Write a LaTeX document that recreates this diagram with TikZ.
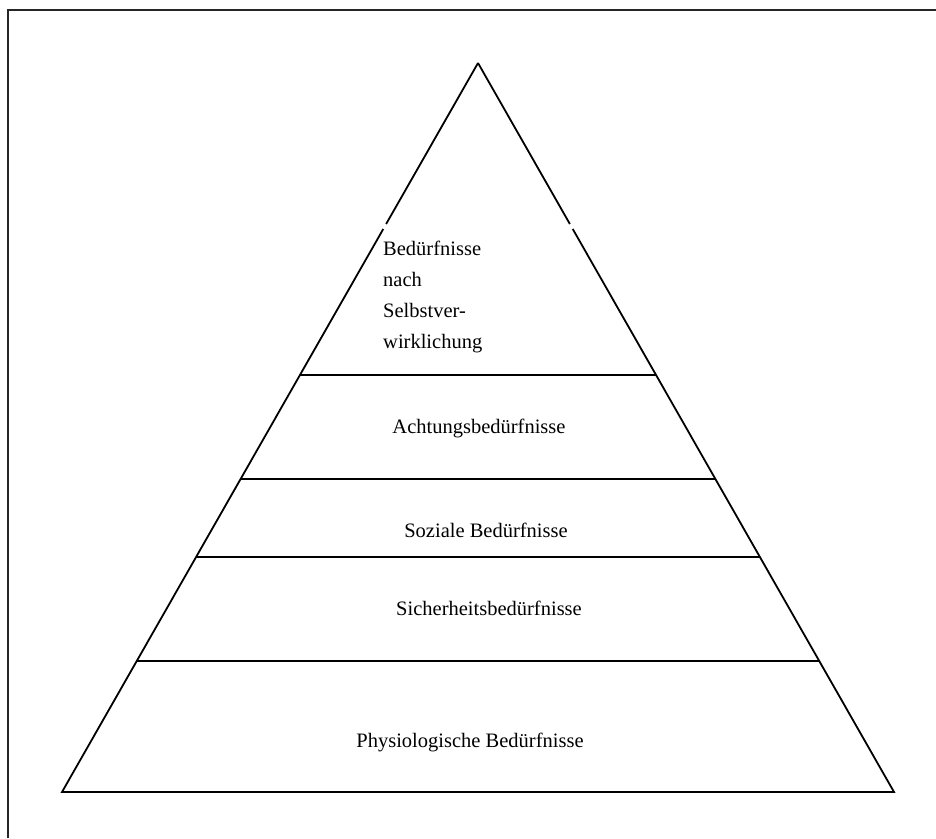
\documentclass[tikz,border=0pt]{standalone}
\usepackage{fontspec}
\setmainfont{Liberation Serif}
\usetikzlibrary{calc}
\begin{document}
\begin{tikzpicture}[x=1pt,y=-1pt,
  edge/.style={line width=1.8pt,black},
  frame/.style={line width=2.6pt,black!85},
  level/.style={font=\fontsize{20.5}{31}\selectfont,inner sep=0pt,anchor=center}]
\useasboundingbox (0,0) rectangle (936,838);
% outer frame
\draw[frame] (8,838) -- (8,10) -- (936,10);
% corners of the pyramid
\coordinate (A) at (478,63);
\coordinate (L) at (62,792);
\coordinate (R) at (894,792);
% sides, each with a short break near the top tier
\draw[edge] (A) -- ($(A)!0.2209!(L)$);
\draw[edge] ($(A)!0.2277!(L)$) -- (L) -- (R) -- ($(A)!0.2277!(R)$);
\draw[edge] ($(A)!0.2209!(R)$) -- (A);
% tier boundaries
\foreach \t in {0.428,0.5706,0.6776,0.8203}{
  \draw[edge] ($(A)!\t!(L)$) -- ($(A)!\t!(R)$);
}
% tier labels
\node[level,align=left,anchor=north west] (top) at (383,241)
  {Bedürfnisse\\nach\\Selbstver-\\wirklichung};
\node[level] (esteem) at (479,428) {Achtungsbedürfnisse};
\node[level] (social) at (486,530) {Soziale Bedürfnisse};
\node[level] (safety) at (489,608) {Sicherheitsbedürfnisse};
\node[level] (phys) at (470,742) {Physiologische Bedürfnisse};
\end{tikzpicture}
\end{document}
